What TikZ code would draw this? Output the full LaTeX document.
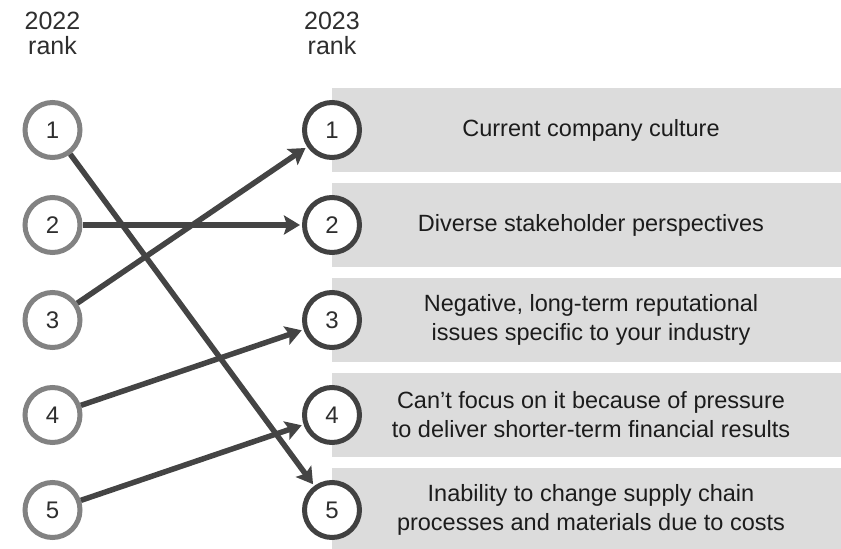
\documentclass[tikz,border=0pt]{standalone}
\usepackage{fontspec}
\setmainfont{Liberation Sans}
\usetikzlibrary{arrows.meta}
\definecolor{oldring}{HTML}{828282}
\definecolor{newring}{HTML}{414141}
\definecolor{linkcol}{HTML}{444444}
\definecolor{boxfill}{HTML}{DCDCDC}
\definecolor{ink}{HTML}{1C1C1C}
\definecolor{numink}{HTML}{2E2E2E}
\tikzset{
  rowbox/.style={fill=boxfill, draw=none, inner sep=0pt, minimum width=509pt,
    minimum height=84pt, anchor=west},
  rowtext/.style={text=ink, align=center, inner sep=0pt,
    font=\fontsize{23.5}{29}\selectfont},
  rankcirc/.style={circle, fill=white, line width=5pt, minimum size=55pt,
    inner sep=0pt, text=numink, font=\fontsize{24}{28}\selectfont},
  oldrank/.style={rankcirc, draw=oldring},
  newrank/.style={rankcirc, draw=newring},
  head/.style={text=numink, align=center, inner sep=0pt, anchor=north,
    font=\fontsize{25}{25}\selectfont},
  link/.style={draw=linkcol, line width=5.5pt, shorten >=2pt,
    -{Stealth[length=16pt, width=19pt, inset=3pt]}}
}
\begin{document}
\begin{tikzpicture}[x=1pt, y=-1pt]
\useasboundingbox (0,0) rectangle (841,549);

% column headings
\node[head] (h22) at (52.5,12) {2022\\rank};
\node[head] (h23) at (332,12) {2023\\rank};

% grey rows with the 2023 items
\foreach \i/\y in {1/130, 2/225, 3/320, 4/415, 5/510}
  \node[rowbox] (b\i) at (332,\y) {};

\node[rowtext] (t1) at (591,130) {Current company culture};
\node[rowtext] (t2) at (591,225) {Diverse stakeholder perspectives};
\node[rowtext] (t3) at (591,320) {Negative, long-term reputational\\issues specific to your industry};
\node[rowtext] (t4) at (591,415) {Can’t focus on it because of pressure\\to deliver shorter-term financial results};
\node[rowtext] (t5) at (591,510) {Inability to change supply chain\\processes and materials due to costs};

% rank circles: 2022 on the left, 2023 on the right
\foreach \i/\y in {1/130, 2/225, 3/320, 4/415, 5/510}{
  \node[oldrank] (o\i) at (52.5,\y) {\i};
  \node[newrank] (n\i) at (332,\y) {\i};
}

% rank changes from 2022 to 2023
\draw[link] (o1) -- (n5);
\draw[link] (o2) -- (n2);
\draw[link] (o3) -- (n1);
\draw[link] (o4) -- (n3);
\draw[link] (o5) -- (n4);
\end{tikzpicture}
\end{document}
